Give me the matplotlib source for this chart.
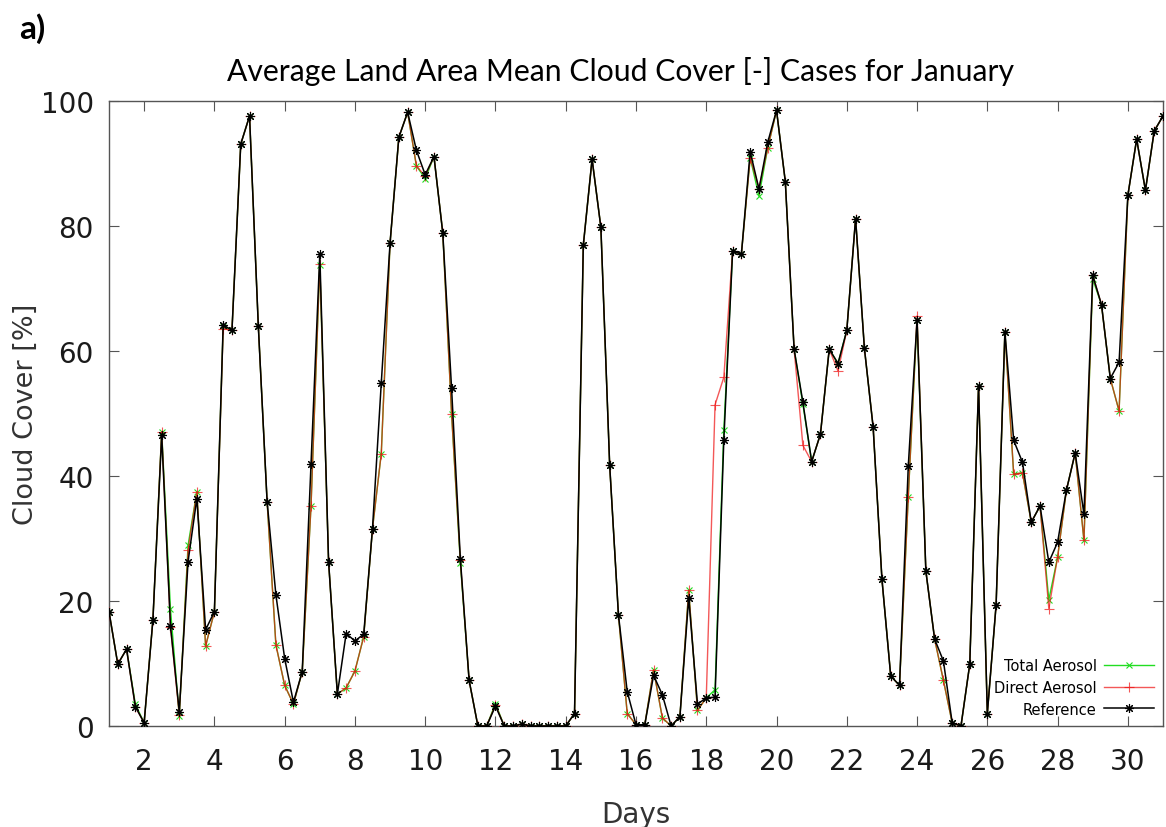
import numpy as np
import matplotlib
matplotlib.use("Agg")
import matplotlib.pyplot as plt

# 6-hourly land-area mean cloud cover, January, days 1.00 ... 31.00
days = np.arange(1.0, 31.0 + 0.001, 0.25)

reference = [
    18.3, 9.9, 12.3, 3.1,    # day 1
    0.5, 17.0, 46.5, 16.0,   # day 2
    2.3, 26.3, 36.4, 15.4,   # day 3
    18.3, 64.2, 63.3, 93.1,  # day 4
    97.6, 64.0, 35.9, 21.0,  # day 5
    10.8, 3.8, 8.7, 41.9,    # day 6
    75.5, 26.3, 5.1, 14.8,   # day 7
    13.6, 14.7, 31.6, 54.9,  # day 8
    77.3, 94.2, 98.2, 92.1,  # day 9
    88.2, 91.1, 78.9, 54.1,  # day 10
    26.8, 7.3, 0.0, 0.0,     # day 11
    3.2, 0.0, 0.0, 0.3,      # day 12
    0.0, 0.0, 0.0, 0.0,      # day 13
    0.0, 2.0, 76.9, 90.7,    # day 14
    79.8, 41.8, 17.8, 5.5,   # day 15
    0.2, 0.2, 8.1, 5.0,      # day 16
    0.0, 1.5, 20.5, 3.5,     # day 17
    4.5, 4.6, 45.8, 76.0,    # day 18
    75.5, 91.9, 85.9, 93.4,  # day 19
    98.5, 87.1, 60.3, 51.8,  # day 20
    42.3, 46.7, 60.3, 58.0,  # day 21
    63.3, 81.2, 60.5, 47.8,  # day 22
    23.5, 8.0, 6.5, 41.6,    # day 23
    65.0, 24.8, 13.9, 10.4,  # day 24
    0.5, 0.0, 9.9, 54.4,     # day 25
    2.0, 19.4, 63.1, 45.7,   # day 26
    42.2, 32.6, 35.2, 26.2,  # day 27
    29.4, 37.7, 43.7, 33.9,  # day 28
    72.1, 67.4, 55.6, 58.2,  # day 29
    84.9, 93.9, 85.7, 95.2,  # day 30
    97.6,                    # day 31
]

direct_aerosol = [
    18.3, 9.9, 12.3, 3.1,
    0.5, 17.0, 47.1, 15.8,
    1.8, 28.1, 37.5, 12.8,
    18.3, 63.6, 63.3, 93.1,
    97.6, 64.0, 35.9, 13.0,
    6.5, 3.5, 8.7, 35.2,
    74.0, 26.3, 5.1, 6.1,
    8.8, 14.3, 31.6, 43.6,
    77.3, 94.2, 98.2, 89.6,
    88.0, 91.1, 78.9, 50.0,
    26.5, 7.3, 0.0, 0.0,
    3.4, 0.0, 0.0, 0.3,
    0.0, 0.0, 0.0, 0.0,
    0.0, 2.0, 76.9, 90.7,
    79.8, 41.8, 17.8, 2.0,
    0.2, 0.2, 9.0, 1.3,
    0.0, 1.5, 21.7, 2.5,
    4.5, 51.4, 55.8, 76.0,
    75.5, 90.9, 86.0, 92.5,
    98.5, 87.1, 60.3, 44.9,
    42.3, 46.7, 60.3, 56.8,
    63.3, 81.2, 60.5, 47.8,
    23.5, 8.0, 6.5, 36.7,
    65.6, 24.8, 13.9, 7.3,
    0.5, 0.0, 9.9, 54.4,
    2.0, 19.4, 63.1, 40.3,
    40.5, 32.6, 35.2, 18.8,
    27.0, 37.7, 43.7, 29.7,
    72.1, 67.4, 55.6, 50.4,
    84.9, 93.9, 85.7, 95.2,
    97.6,
]

total_aerosol = [
    18.3, 9.9, 12.3, 3.5,
    0.5, 17.0, 47.1, 18.7,
    1.6, 28.9, 37.5, 12.8,
    18.3, 64.0, 63.3, 93.1,
    97.6, 64.0, 35.9, 13.0,
    6.5, 3.5, 8.7, 35.2,
    73.8, 26.3, 5.1, 6.1,
    8.8, 14.3, 31.6, 43.6,
    77.3, 94.2, 98.2, 89.6,
    87.6, 91.1, 78.9, 50.0,
    26.1, 7.3, 0.0, 0.0,
    3.6, 0.0, 0.0, 0.3,
    0.0, 0.0, 0.0, 0.0,
    0.0, 2.0, 76.9, 90.7,
    79.8, 41.8, 17.8, 2.0,
    0.2, 0.2, 9.0, 1.3,
    0.0, 1.5, 21.7, 2.5,
    4.5, 5.8, 47.3, 76.0,
    75.5, 90.9, 84.8, 92.5,
    98.5, 87.1, 60.3, 51.5,
    42.3, 46.7, 60.3, 58.0,
    63.3, 81.2, 60.5, 47.8,
    23.5, 8.0, 6.5, 36.7,
    65.0, 24.8, 13.9, 7.3,
    0.5, 0.0, 9.9, 54.4,
    2.0, 19.4, 63.1, 40.3,
    40.5, 32.6, 35.2, 20.2,
    27.0, 37.7, 43.7, 29.7,
    71.5, 67.4, 55.6, 50.4,
    84.9, 93.9, 85.7, 95.2,
    97.6,
]

assert len(reference) == len(direct_aerosol) == len(total_aerosol) == len(days)

x_ticks = list(range(2, 31, 2))
y_ticks = [0, 20, 40, 60, 80, 100]

title = "Average Land Area Mean Cloud Cover [-] Cases for January"
panel_label = "a)"

W, H = 1166, 828
fig = plt.figure(figsize=(W / 100, H / 100), dpi=100)
ax = fig.add_axes([109 / W, 1 - 727 / H, (1163 - 109) / W, (727 - 102) / H])

asterisk = (8, 2, 0)  # 8-armed asterisk like the gnuplot point type

ax.plot(days, total_aerosol, color="#22dd22", lw=1.0, marker="x",
        ms=5.0, mew=0.8, label="Total Aerosol", zorder=2)
ax.plot(days, direct_aerosol, color="#ee1111", lw=1.0, marker="+",
        ms=6.5, mew=0.8, alpha=0.7, label="Direct Aerosol", zorder=3)
ax.plot(days, reference, color="black", lw=1.1, marker=asterisk,
        ms=6.5, mew=0.8, label="Reference", zorder=4)

ax.set_xlim(1, 31)
ax.set_ylim(0, 100)
ax.set_xticks(x_ticks)
ax.set_yticks(y_ticks)
ax.tick_params(direction="in", length=7, width=0.8, color="#555555",
               top=True, right=True, labelsize=20, labelcolor="#1a1a1a")
ax.tick_params(axis="x", pad=15)
ax.tick_params(axis="y", pad=11)
for s in ax.spines.values():
    s.set_color("#555555")
    s.set_linewidth(1.0)

ax.set_xlabel("Days", fontsize=20, color="#333333", labelpad=18)
ax.set_ylabel("Cloud Cover [%]", fontsize=19.5, color="#333333", labelpad=1)

fig.text(620 / W, 1 - 72 / H, title, ha="center", va="center",
         fontsize=21.7, family=["Lato", "DejaVu Sans"], color="black")
fig.text(19 / W, 1 - 29 / H, panel_label, ha="left", va="center",
         fontsize=24, fontweight="bold", family=["Lato", "DejaVu Sans"])

leg = ax.legend(loc="lower right", frameon=False, markerfirst=False,
                fontsize=10.5, handlelength=3.4, labelspacing=0.45,
                borderaxespad=0.25, handletextpad=0.5)
for t in leg.get_texts():
    t.set_ha("right")

fig.savefig("out.png", dpi=100)
